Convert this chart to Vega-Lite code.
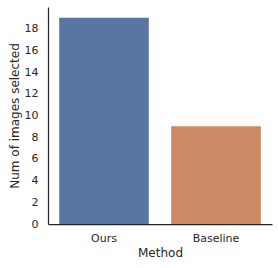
{
  "$schema": "https://vega.github.io/schema/vega-lite/v6.json",
  "width": 224,
  "height": 217,
  "autosize": {"type": "none"},
  "padding": {"left": 48, "top": 7, "right": 6, "bottom": 44},
  "background": "white",
  "data": {"values": [
    {"Method": "Ours", "count": 19},
    {"Method": "Baseline", "count": 9}
  ]},
  "mark": {"type": "bar"},
  "encoding": {
    "x": {
      "field": "Method", "type": "nominal", "sort": ["Ours", "Baseline"],
      "scale": {"paddingInner": 0.2, "paddingOuter": 0.1},
      "axis": {"title": "Method", "labelAngle": 0, "ticks": false, "labelPadding": 8, "titlePadding": 4}
    },
    "y": {
      "field": "count", "type": "quantitative",
      "scale": {"domain": [0, 20], "nice": false},
      "axis": {"title": "Num of images selected", "values": [0,2,4,6,8,10,12,14,16,18], "ticks": false, "labelPadding": 10, "titlePadding": 3, "grid": false}
    },
    "color": {
      "field": "Method", "type": "nominal", "legend": null,
      "scale": {"domain": ["Ours", "Baseline"], "range": ["#5975a4", "#cc8963"]}
    }
  },
  "config": {
    "view": {"stroke": null},
    "font": "DejaVu Sans",
    "axis": {
      "domainColor": "#262626", "domainWidth": 1.25,
      "labelColor": "#262626", "titleColor": "#262626",
      "labelFont": "DejaVu Sans", "titleFont": "DejaVu Sans",
      "labelFontSize": 11, "titleFontSize": 12, "titleFontWeight": "normal"
    }
  }
}
